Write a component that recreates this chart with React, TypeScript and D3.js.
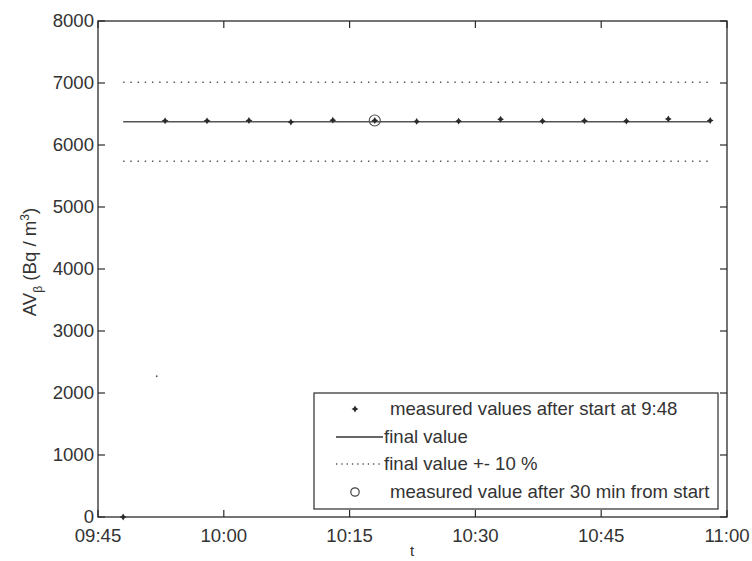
import React from "react";
import * as d3 from "d3";

const measuredTimes = ["09:53","09:58","10:03","10:08","10:13","10:18","10:23","10:28","10:33","10:38","10:43","10:48","10:53","10:58"];
const measuredValues = [6390,6390,6395,6370,6400,6395,6380,6385,6415,6385,6390,6385,6420,6395];
const startPoint = { time: "09:48", value: 0 };
const strayPoint = { time: "09:52", value: 2270 };
const finalValue = 6375;
const bandPct = 0.10;
const lineSpan = ["09:48", "10:58"];
const circleTime = "10:18";
const xDomain = ["09:45", "11:00"];
const xTickLabels = ["09:45","10:00","10:15","10:30","10:45","11:00"];
const yTicks = [0,1000,2000,3000,4000,5000,6000,7000,8000];
const legendLabels = [
  "measured values after start at 9:48",
  "final value",
  "final value +- 10 %",
  "measured value after 30 min from start",
];

const toDate = (s: string) => {
  const [h, m] = s.split(":").map(Number);
  return new Date(2000, 0, 1, h, m, 0);
};

const W = 752, H = 561;
const L = 98, R = 727, T = 21, B = 517;
const FONT = "'Liberation Sans', Arial, sans-serif";
const FS = 18.6;
const INK = "#2a2a2a";

function star(cx: number, cy: number, r = 3.4, w = 1.3) {
  return `M${cx},${cy - r}L${cx + w},${cy - w}L${cx + r},${cy}L${cx + w},${cy + w}L${cx},${cy + r}L${cx - w},${cy + w}L${cx - r},${cy}L${cx - w},${cy - w}Z`;
}

export default function App() {
  const x = d3.scaleTime().domain(xDomain.map(toDate)).range([L, R]);
  const y = d3.scaleLinear().domain([0, 8000]).range([B, T]);
  const fmt = d3.timeFormat("%H:%M");
  const xTicks = xTickLabels.map(toDate);
  const tick = 7;

  const x0 = x(toDate(lineSpan[0])), x1 = x(toDate(lineSpan[1]));
  const lineGen = d3.line<[number, number]>();

  const pts = measuredTimes.map((t, i) => ({ t: toDate(t), v: measuredValues[i] }));
  const ci = measuredTimes.indexOf(circleTime);

  const lg = { x: 314, y: 393, w: 404, h: 116 };
  const rowY = [409, 437, 464, 492];

  return (
    <svg width={W} height={H} style={{ position: "absolute", left: 0, top: 0, background: "#fff" }}>
      {/* reference lines */}
      <path d={lineGen([[x0, y(finalValue)], [x1, y(finalValue)]]) || ""} stroke="#555" strokeWidth={1.6} fill="none" />
      <path d={lineGen([[x0, y(finalValue * (1 + bandPct))], [x1, y(finalValue * (1 + bandPct))]]) || ""} stroke="#555" strokeWidth={1.4} strokeDasharray="1.4 5.8" fill="none" />
      <path d={lineGen([[x0, y(finalValue * (1 - bandPct))], [x1, y(finalValue * (1 - bandPct))]]) || ""} stroke="#555" strokeWidth={1.4} strokeDasharray="1.4 5.8" fill="none" />

      {/* measured points */}
      <path d={star(x(toDate(startPoint.time)), y(startPoint.value))} fill={INK} />
      <circle cx={x(toDate(strayPoint.time))} cy={y(strayPoint.value)} r={0.9} fill="#555" />
      {pts.map((p, i) => (
        <path key={i} d={star(x(p.t), y(p.v))} fill={INK} />
      ))}
      {ci >= 0 && (
        <circle cx={x(pts[ci].t)} cy={y(pts[ci].v)} r={5.5} fill="none" stroke="#555" strokeWidth={1.2} />
      )}

      {/* axes box */}
      <rect x={L} y={T} width={R - L} height={B - T} fill="none" stroke={INK} strokeWidth={1.3} />
      {yTicks.map((v) => (
        <g key={v}>
          <line x1={L} x2={L + tick} y1={y(v)} y2={y(v)} stroke={INK} strokeWidth={1.2} />
          <line x1={R} x2={R - tick} y1={y(v)} y2={y(v)} stroke={INK} strokeWidth={1.2} />
          <text x={L - 4} y={y(v) + 6} textAnchor="end" fontFamily={FONT} fontSize={FS} fill="#333">{v}</text>
        </g>
      ))}

      {/* legend */}
      <rect x={lg.x} y={lg.y} width={lg.w} height={lg.h} fill="#fff" stroke={INK} strokeWidth={1.2} />
      <path d={star(355, rowY[0])} fill={INK} />
      <text x={390} y={rowY[0] + 6} fontFamily={FONT} fontSize={FS} fill="#333">{legendLabels[0]}</text>
      <line x1={336} x2={383} y1={rowY[1]} y2={rowY[1]} stroke="#333" strokeWidth={1.6} />
      <text x={384} y={rowY[1] + 6} fontFamily={FONT} fontSize={FS} fill="#333">{legendLabels[1]}</text>
      <line x1={336} x2={383} y1={rowY[2]} y2={rowY[2]} stroke="#555" strokeWidth={1.3} strokeDasharray="1.3 4" />
      <text x={384} y={rowY[2] + 6} fontFamily={FONT} fontSize={FS} fill="#333">{legendLabels[2]}</text>
      <circle cx={355} cy={rowY[3]} r={4.2} fill="none" stroke="#444" strokeWidth={1.2} />
      <text x={390} y={rowY[3] + 6} fontFamily={FONT} fontSize={FS} fill="#333">{legendLabels[3]}</text>

      {/* x ticks */}
      {xTicks.map((d, i) => (
        <g key={i}>
          <line x1={x(d)} x2={x(d)} y1={B} y2={B - tick} stroke={INK} strokeWidth={1.2} />
          <line x1={x(d)} x2={x(d)} y1={T} y2={T + tick} stroke={INK} strokeWidth={1.2} />
          <text x={x(d)} y={B + 25} textAnchor="middle" fontFamily={FONT} fontSize={FS} fill="#333">{fmt(d)}</text>
        </g>
      ))}

      {/* axis labels */}
      <text x={412} y={556} textAnchor="middle" fontFamily={FONT} fontSize={15} fill="#333">t</text>
      <text transform="translate(36,262) rotate(-90)" textAnchor="middle" fontFamily={FONT} fontSize={FS} fill="#333">
        AV<tspan fontSize={12} dy={6}>β</tspan>
        <tspan dy={-6}> (Bq / m</tspan>
        <tspan fontSize={12} dy={-7}>3</tspan>
        <tspan dy={7}>)</tspan>
      </text>
    </svg>
  );
}
